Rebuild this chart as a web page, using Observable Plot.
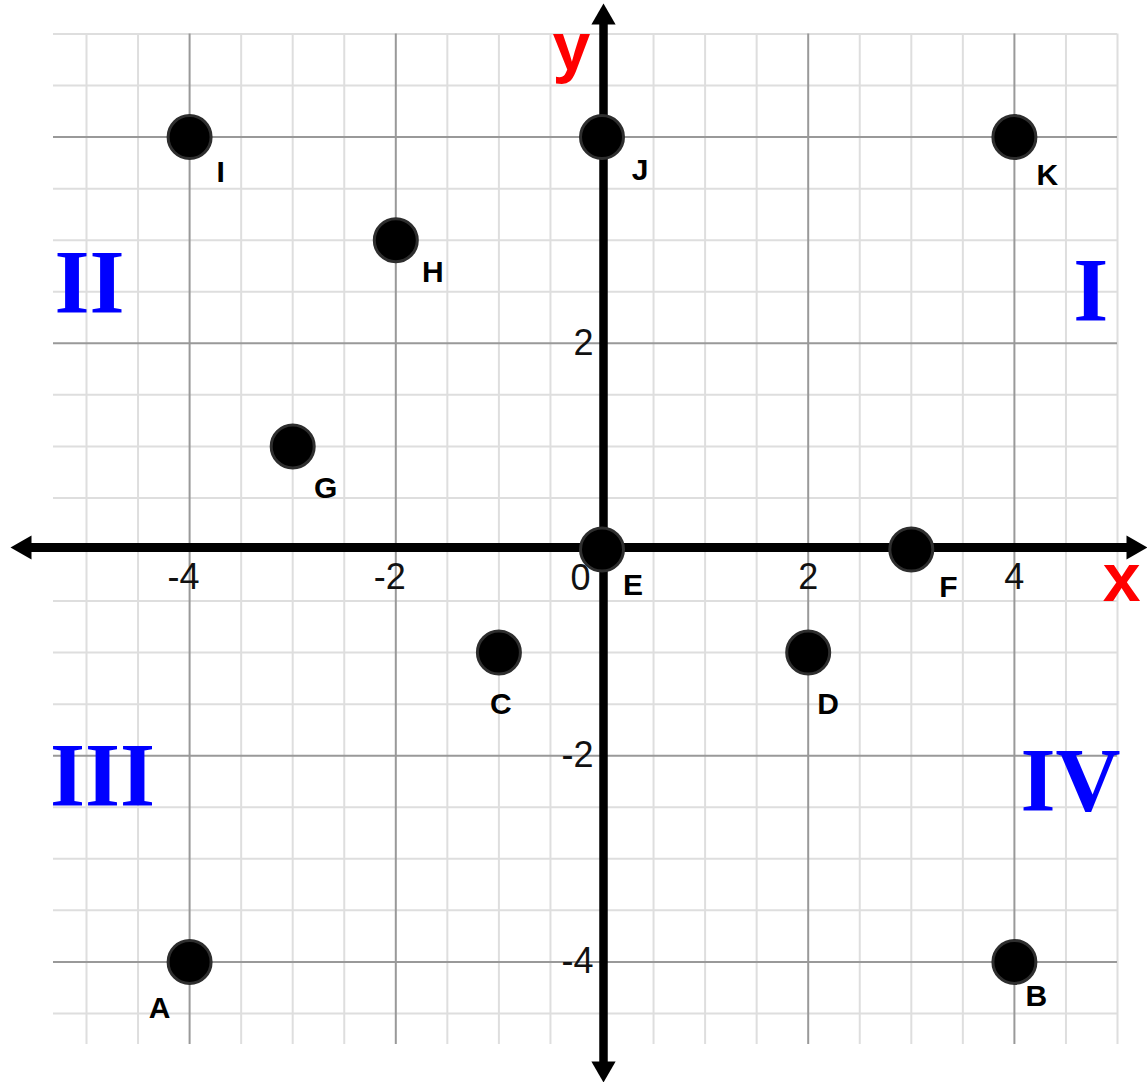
<!DOCTYPE html>
<html><head><meta charset="utf-8">
<script src="https://cdn.jsdelivr.net/npm/d3@7"></script>
<script src="https://cdn.jsdelivr.net/npm/@observablehq/plot@0.6"></script>
<style>html,body{margin:0;padding:0;background:#fff;} svg{display:block}</style>
</head><body><div id="chart"></div>
<script>
// ---- data ----
const pointNames = ["A","B","C","D","E","F","G","H","I","J","K"];
const pointX = [-4, 4, -1, 2, 0, 3, -3, -2, -4, 0, 4];
const pointY = [-4, -4, -1, -1, 0, 0, 1, 3, 4, 4, 4];
const xTickValues = [-4, -2, 2, 4];
const yTickValues = [2, -2, -4];
const originLabel = "0";
const quadrantNames = ["I", "II", "III", "IV"];
const axisNames = ["x", "y"];

// ---- layout (pixels) ----
const W = 1147, H = 1082;
const X0 = 601.5, Y0 = 549, UNIT = 103.1;
const xDomain = [-X0 / UNIT, (W - X0) / UNIT];
const yDomain = [(Y0 - H) / UNIT, Y0 / UNIT];
const px = v => v / UNIT; // pixel offset -> data units

// label nudges in pixels for each point label (A..K)
const labelNudge = [[-30,46],[22,34],[2,52],[20,52],[31,36],[37,38],[33,42],[37,32],[31,35],[38,33],[33,38]];
// quadrant numeral anchors (data units)
const quadrantPos = [[4.74, 2.50],[-4.97, 2.575],[-4.845, -2.21],[4.544, -2.26]];
// axis-name anchors (data units)
const axisNamePos = [[5.04, -0.29],[-0.296, 4.86]];

const points = pointNames.map((n, i) => ({name: n, x: pointX[i], y: pointY[i],
  lx: pointX[i] + px(labelNudge[i][0]), ly: pointY[i] - px(labelNudge[i][1])}));
const quadrants = quadrantNames.map((n, i) => ({name: n, x: quadrantPos[i][0], y: quadrantPos[i][1]}));
const axisLabels = axisNames.map((n, i) => ({name: n, x: axisNamePos[i][0], y: axisNamePos[i][1]}));

// grid
const gridTop = 5, gridBottom = px(Y0 - 1044), gridLeft = px(53 - X0), gridRight = 5;
const vLines = d3.range(-5, 5.001, 0.5);
const hLines = d3.range(-4.5, 5.001, 0.5);
const isMajor = v => v !== 0 && Math.abs(v) % 2 === 0;

// axis extents (tips)
const xLeftTip = px(10 - X0), xRightTip = xDomain[1];
const yTopTip = px(Y0 - 3), yBottomTip = yDomain[0];
const headOff = px(14);

const sans = "Liberation Sans, Arial, Helvetica, sans-serif";
const serif = "Liberation Serif, Times New Roman, serif";

const chart = Plot.plot({
  width: W, height: H, margin: 0,
  x: {domain: xDomain, range: [0, W], axis: null},
  y: {domain: yDomain, range: [H, 0], axis: null},
  style: {background: "#fff"},
  marks: [
    Plot.ruleX(vLines.filter(v => !isMajor(v)), {y1: () => gridBottom, y2: () => gridTop, stroke: "#dedede", strokeWidth: 2}),
    Plot.ruleY(hLines.filter(v => !isMajor(v)), {x1: () => gridLeft, x2: () => gridRight, stroke: "#dedede", strokeWidth: 2}),
    Plot.ruleX(vLines.filter(isMajor), {y1: () => gridBottom, y2: () => gridTop, stroke: "#999", strokeWidth: 2}),
    Plot.ruleY(hLines.filter(isMajor), {x1: () => gridLeft, x2: () => gridRight, stroke: "#999", strokeWidth: 2}),
    // axes
    Plot.ruleY([0], {x1: () => xLeftTip + headOff, x2: () => xRightTip - headOff, stroke: "#000", strokeWidth: 9, dy: -2}),
    Plot.ruleX([0], {y1: () => yBottomTip + headOff, y2: () => yTopTip - headOff, stroke: "#000", strokeWidth: 8.5, dx: 1.5}),
    Plot.dot([0], {x: () => xRightTip - headOff, y: () => 0, symbol: "triangle", r: 9, fill: "#000", rotate: 90, dy: -2}),
    Plot.dot([0], {x: () => xLeftTip + headOff, y: () => 0, symbol: "triangle", r: 9, fill: "#000", rotate: -90, dy: -2}),
    Plot.dot([0], {x: () => 0, y: () => yTopTip - headOff, symbol: "triangle", r: 9, fill: "#000", rotate: 0, dx: 1.5}),
    Plot.dot([0], {x: () => 0, y: () => yBottomTip + headOff, symbol: "triangle", r: 9, fill: "#000", rotate: 180, dx: 1.5}),
    // tick labels
    Plot.text(xTickValues, {x: d => d, y: () => 0, text: d => String(d).replace("-", "-"), textAnchor: "end", dx: 10, dy: 28, fontSize: 36, fontFamily: sans, fill: "#111"}),
    Plot.text(yTickValues, {x: () => 0, y: d => d, text: d => String(d), textAnchor: "end", dx: -8.5, fontSize: 36, fontFamily: sans, fill: "#111"}),
    Plot.text([originLabel], {x: () => 0, y: () => 0, text: d => d, textAnchor: "end", dx: -11.5, dy: 28.5, fontSize: 36, fontFamily: sans, fill: "#111"}),
    // points
    Plot.dot(points, {x: "x", y: "y", r: 21.5, fill: "#000", stroke: "#2e2e2e", strokeWidth: 3}),
    Plot.text(points, {x: "lx", y: "ly", text: "name", fontSize: 30, fontWeight: "bold", fontFamily: sans, fill: "#000"}),
    // quadrant numerals
    Plot.text(quadrants, {x: "x", y: "y", text: "name", fontSize: 90, fontWeight: "bold", fontFamily: serif, fill: "#0000ff"}),
    // axis names
    Plot.text(axisLabels, {x: "x", y: "y", text: "name", fontSize: 68, fontWeight: "bold", fontFamily: sans, fill: "#ff0000"})
  ]
});
document.getElementById("chart").appendChild(chart);
</script>
</body></html>
